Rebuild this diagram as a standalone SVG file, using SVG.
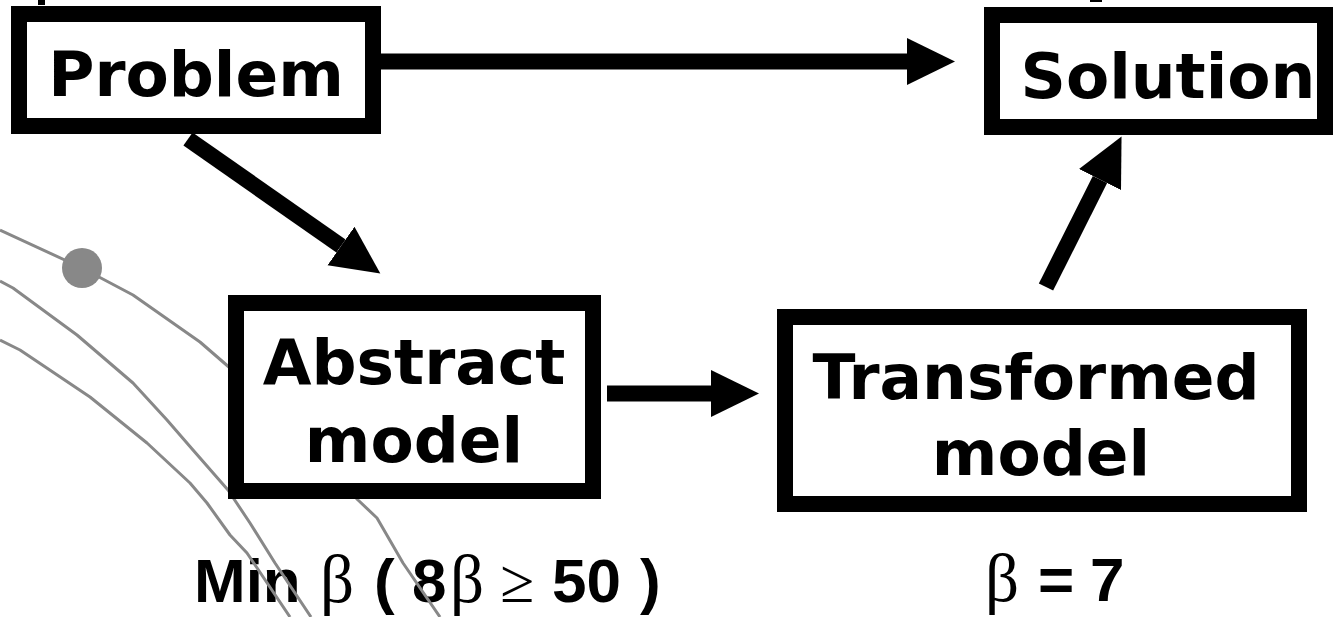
<svg xmlns="http://www.w3.org/2000/svg" width="1337" height="617" viewBox="0 0 1337 617">
  <style>
    .box { fill: #fff; stroke: #000; stroke-width: 16; }
    .lbl { font-family: "DejaVu Sans", Verdana, sans-serif; font-weight: bold; font-size: 63px; text-anchor: middle; fill: #000; }
    .eq { font-family: "Liberation Sans", Arial, sans-serif; font-weight: bold; font-size: 62px; fill: #000; }
    .sym { font-family: "Liberation Serif", "Times New Roman", serif; font-weight: normal; }
    .beta { font-size: 67px; }
    .curve { fill: none; stroke: #888; stroke-width: 3; stroke-linejoin: round; }
    .conn { stroke: #000; stroke-width: 16; marker-end: url(#head); }
  </style>
  <defs>
    <marker id="head" markerUnits="userSpaceOnUse" markerWidth="50" markerHeight="50" viewBox="0 -25 50 50" refX="0" refY="0" orient="auto">
      <path d="M0,-23.5 L48,0 L0,23.5 Z" fill="#000"/>
    </marker>
  </defs>

  <rect width="1337" height="617" fill="#fff"/>

  <!-- fragments cut off at the top edge -->
  <rect x="38" y="0" width="7" height="5" fill="#000"/>
  <rect x="1090" y="0" width="12" height="2" fill="#000"/>

  <!-- formulas under the model boxes -->
  <text class="eq" y="602">
    <tspan x="194">Min</tspan><tspan class="sym beta" x="320">β</tspan><tspan x="374">(</tspan><tspan x="412">8</tspan><tspan class="sym beta" x="450">β</tspan><tspan class="sym" x="500">≥</tspan><tspan x="552">50</tspan><tspan x="640">)</tspan>
  </text>
  <text class="eq" y="601">
    <tspan class="sym beta" x="985">β</tspan><tspan x="1038">=</tspan><tspan x="1090">7</tspan>
  </text>

  <!-- grey contour curves in the background -->
  <g id="contours">
    <polyline class="curve" points="0,230 82,268 133,295 200,342 230,368 300,440 358,500 377,518 403,563 440,617"/>
    <polyline class="curve" points="0,281 13,288 77,335 133,383 167,420 193,450 228,490 250,523 275,563 311,617"/>
    <polyline class="curve" points="0,340 20,350 90,397 147,443 190,483 207,503 230,535 247,553 290,617"/>
    <circle cx="82" cy="268" r="20" fill="#888"/>
  </g>

  <!-- connectors -->
  <g id="connectors">
    <line class="conn" x1="381" y1="61.5" x2="907" y2="61.5"/>
    <line class="conn" x1="188" y1="139" x2="341" y2="246"/>
    <line class="conn" x1="607" y1="393.5" x2="711" y2="393.5"/>
    <line class="conn" x1="1046" y1="287" x2="1100" y2="179.5"/>
  </g>

  <g id="problem">
    <rect class="box" x="19" y="14" width="354" height="112"/>
    <text class="lbl" x="196" y="96">Problem</text>
  </g>

  <g id="solution">
    <rect class="box" x="992" y="15" width="333" height="112"/>
    <text class="lbl" x="1168" y="98">Solution</text>
  </g>

  <g id="abstract-model">
    <rect class="box" x="236" y="303" width="357" height="188"/>
    <text class="lbl" x="414" y="384">Abstract</text>
    <text class="lbl" x="414" y="462">model</text>
  </g>

  <g id="transformed-model">
    <rect class="box" x="785" y="317" width="514" height="187"/>
    <text class="lbl" x="1036" y="399">Transformed</text>
    <text class="lbl" x="1041" y="475">model</text>
  </g>
</svg>
